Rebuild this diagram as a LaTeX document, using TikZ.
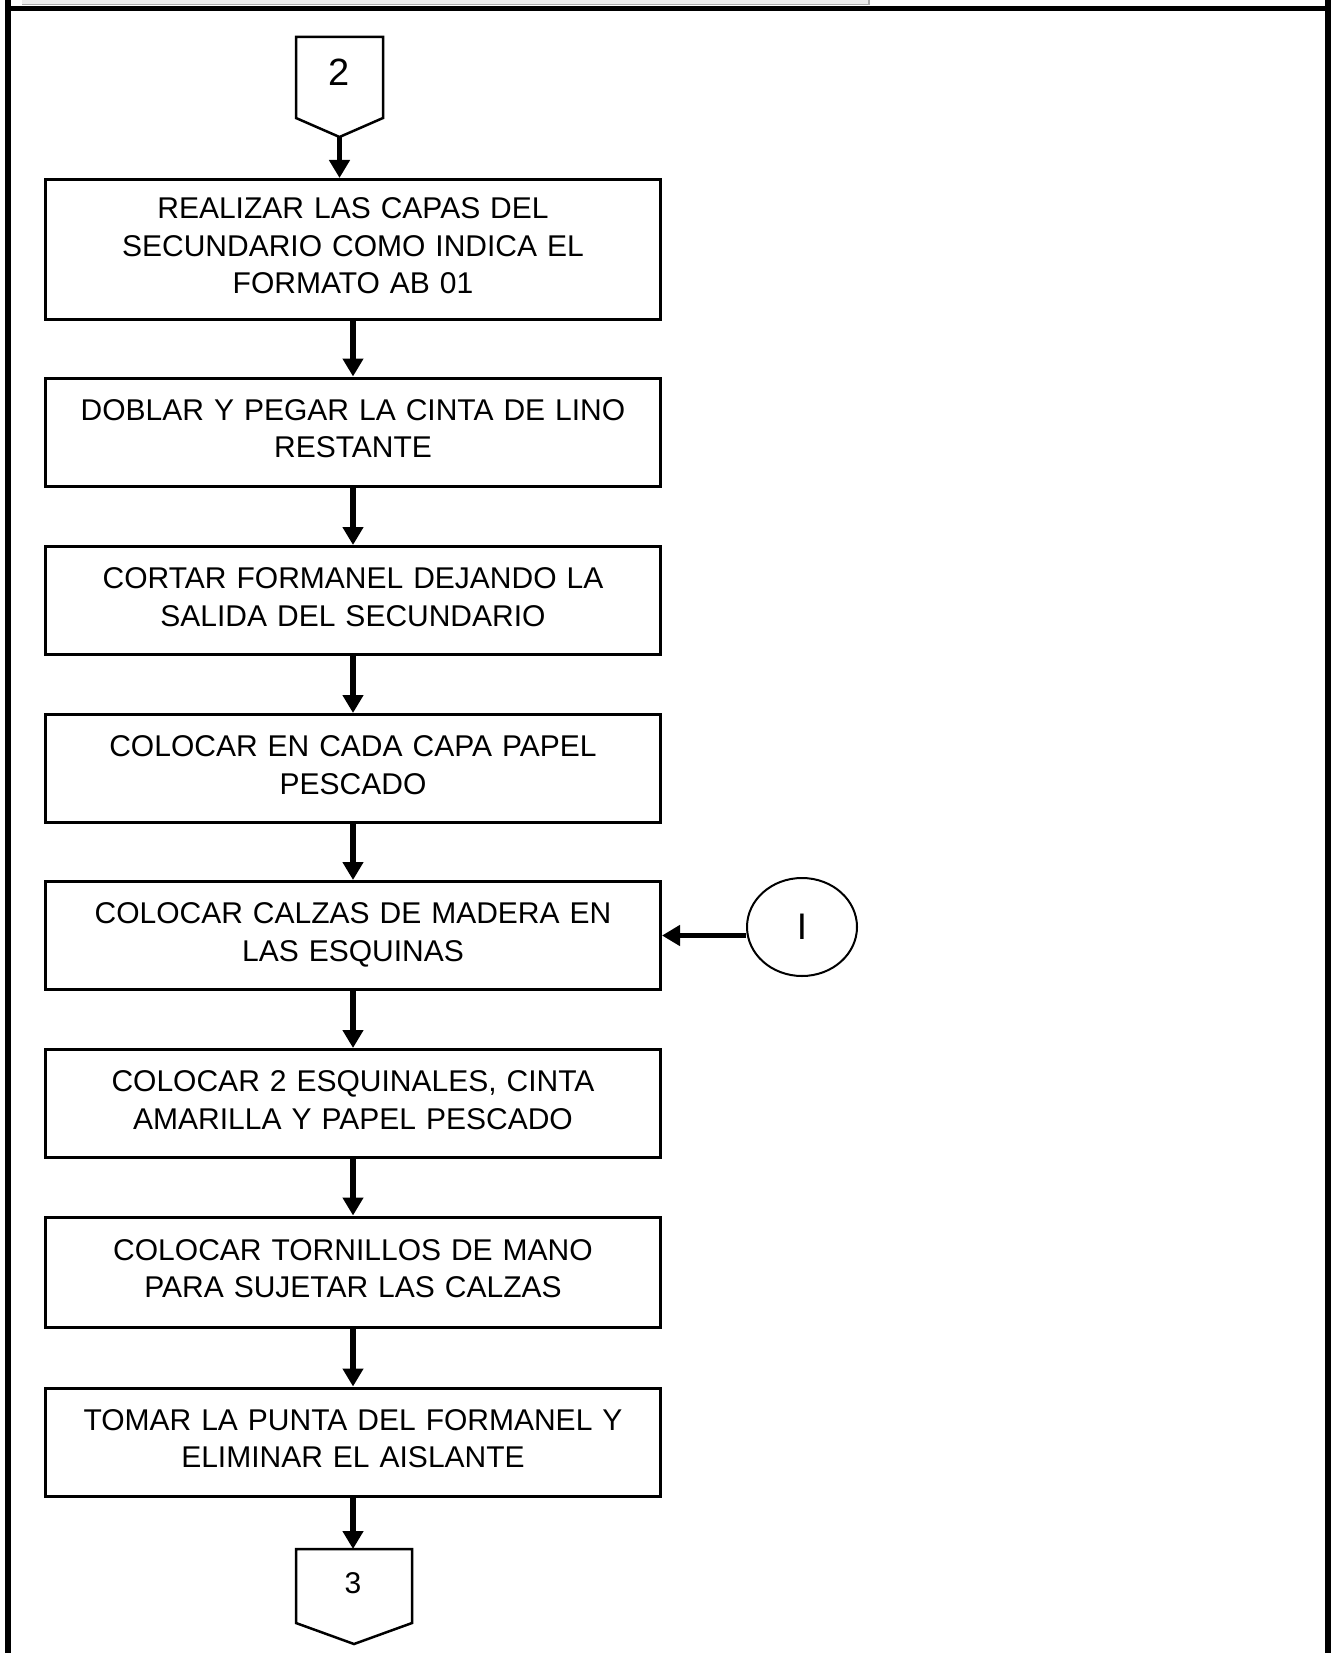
\documentclass[tikz,border=0pt]{standalone}
\usepackage{fontspec}
\setmainfont{Liberation Sans}
\usetikzlibrary{arrows.meta,shapes.geometric}
% invisible strut that lifts the text block slightly inside its box
\newcommand{\liftpad}{\rule[-7pt]{0pt}{7pt}}
\begin{document}
\begin{tikzpicture}[x=1pt,y=-1pt,
  stepbox/.style={draw, line width=3pt, minimum width=615pt, minimum height=108pt,
    text width=600pt, align=center, inner sep=0pt,
    execute at end node={\liftpad},
    font=\fontsize{30}{37.5}\selectfont},
  flow/.style={line width=5.5pt, -{Triangle[width=20pt,length=18pt]}},
  offpage/.style={line width=2.5pt, line join=miter},
  label/.style={font=\fontsize{38}{38}\selectfont, inner sep=0pt},
  ]
\useasboundingbox (0,0) rectangle (1334,1653);

% page frame
\fill[gray!15] (22,0) rectangle (869,4);
\draw[gray!65, line width=1.5pt] (22,4.5) -- (869,4.5) -- (869,0);
\draw[line width=6pt] (8,0) -- (8,1653);
\draw[line width=6pt] (1328,0) -- (1328,1653);
\draw[line width=5pt] (8,8.5) -- (1328,8.5);

% incoming off-page connector
\draw[offpage] (296,37) -- (383,37) -- (383,118) -- (339.5,137) -- (296,118) -- cycle;
\coordinate (c2tip) at (339.5,137);
\node[label] (c2) at (339.5,72) {2};

% process steps
\node[stepbox, minimum height=140pt] (b1) at (353,249.5)
  {REALIZAR LAS CAPAS DEL\\SECUNDARIO COMO INDICA EL\\FORMATO AB 01};
\node[stepbox] (b2) at (353,432)
  {DOBLAR Y PEGAR LA CINTA DE LINO\\RESTANTE};
\node[stepbox] (b3) at (353,600.5)
  {CORTAR FORMANEL DEJANDO LA\\SALIDA DEL SECUNDARIO};
\node[stepbox] (b4) at (353,768.5)
  {COLOCAR EN CADA CAPA PAPEL\\PESCADO};
\node[stepbox] (b5) at (353,935.5)
  {COLOCAR CALZAS DE MADERA EN\\LAS ESQUINAS};
\node[stepbox] (b6) at (353,1103.5)
  {COLOCAR 2 ESQUINALES, CINTA\\AMARILLA Y PAPEL PESCADO};
\node[stepbox, minimum height=110pt] (b7) at (353,1272)
  {COLOCAR TORNILLOS DE MANO\\PARA SUJETAR LAS CALZAS};
\node[stepbox] (b8) at (353,1442)
  {TOMAR LA PUNTA DEL FORMANEL Y\\ELIMINAR EL AISLANTE};

% on-page connector
\node[draw, ellipse, line width=2pt, minimum width=110pt, minimum height=98pt,
  font=\fontsize{37}{37}\selectfont] (c1) at (802,927) {I};

% outgoing off-page connector
\draw[offpage] (296,1549) -- (412,1549) -- (412,1623) -- (354,1644) -- (296,1623) -- cycle;
\coordinate (c3top) at (353,1549);
\node[label, font=\fontsize{30}{30}\selectfont] (c3) at (353,1583) {3};

% flow lines
\draw[flow] (c2tip) -- (c2tip |- b1.north);
\draw[flow] (b1.south) -- (b2.north);
\draw[flow] (b2.south) -- (b3.north);
\draw[flow] (b3.south) -- (b4.north);
\draw[flow] (b4.south) -- (b5.north);
\draw[flow] (b5.south) -- (b6.north);
\draw[flow] (b6.south) -- (b7.north);
\draw[flow] (b7.south) -- (b8.north);
\draw[flow] (b8.south) -- (c3top);
\draw[flow] (c1.west |- b5.east) -- (b5.east);
\end{tikzpicture}
\end{document}
